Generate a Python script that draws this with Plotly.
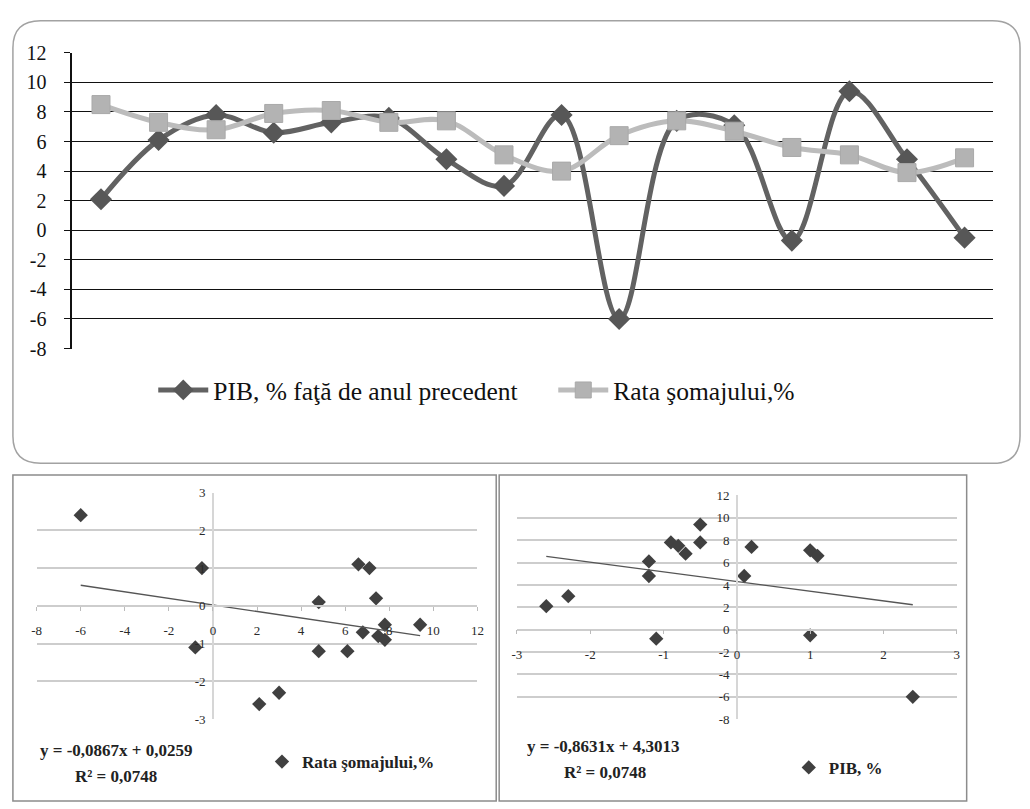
import plotly.graph_objects as go

W, H = 1030, 809

# --- time series: GDP growth and unemployment rate, 16 consecutive years ---
period = list(range(16))
pib = [2.1, 6.1, 7.8, 6.6, 7.3, 7.6, 4.8, 3.0, 7.8, -6.0, 7.4, 7.1, -0.7, 9.4, 4.8, -0.5]
rata_somaj = [8.5, 7.3, 6.8, 7.9, 8.1, 7.3, 7.4, 5.1, 4.0, 6.4, 7.4, 6.7, 5.6, 5.1, 3.9, 4.9]

# --- paired values used by the two regression scatters ---
scatter_pib = [2.1, 3.0, 6.1, 4.8, -0.8, 7.8, 7.5, 6.8, 9.4, 7.8, 4.8, 7.4, 7.1, 6.6, -0.5, -6.0]
scatter_z = [-2.6, -2.3, -1.2, -1.2, -1.1, -0.9, -0.8, -0.7, -0.5, -0.5, 0.1, 0.2, 1.0, 1.1, 1.0, 2.4]

# linear trend coefficients (slope, intercept, R²)
fit_left = (-0.0867, 0.0259, 0.0748)
fit_right = (-0.8631, 4.3013, 0.0748)

top_ticks = list(range(-8, 13, 2))
left_xticks = list(range(-8, 13, 2))
left_yticks = list(range(-3, 4))
right_xticks = list(range(-3, 4))
right_yticks = list(range(-8, 13, 2))


def px(x):
    return x / W


def py(y):
    return 1 - y / H


def rounded_rect(x0, y0, x1, y1, r):
    """SVG path (paper coords) for a rectangle with rounded corners, given in pixels."""
    pts = [
        ("M", x0 + r, y0), ("L", x1 - r, y0), ("Q", x1, y0, x1, y0 + r),
        ("L", x1, y1 - r), ("Q", x1, y1, x1 - r, y1), ("L", x0 + r, y1),
        ("Q", x0, y1, x0, y1 - r), ("L", x0, y0 + r), ("Q", x0, y0, x0 + r, y0),
    ]
    out = []
    for p in pts:
        cmd, coords = p[0], p[1:]
        xy = []
        for i in range(0, len(coords), 2):
            xy.append(f"{px(coords[i]):.5f},{py(coords[i + 1]):.5f}")
        out.append(cmd + " ".join(xy))
    return " ".join(out) + " Z"


def labels(vals):
    # plain hyphen for negatives, as in the printed source
    return [str(v) for v in vals]


fig = go.Figure()

serif = "Liberation Serif, Times New Roman, serif"
dark = "#626262"
light = "#bcbcbc"

# --- top chart ---
fig.add_trace(go.Scatter(
    x=period, y=pib, name="PIB, % faţă de anul precedent",
    mode="lines+markers", line=dict(color=dark, width=5, shape="spline", smoothing=1),
    marker=dict(symbol="diamond", size=17, color="#575757"),
    xaxis="x", yaxis="y", legend="legend",
))
fig.add_trace(go.Scatter(
    x=period, y=rata_somaj, name="Rata şomajului,%",
    mode="lines+markers", line=dict(color=light, width=5, shape="spline", smoothing=1),
    marker=dict(symbol="square", size=18, color="#b3b3b3", line=dict(color="#a9a9a9", width=1)),
    xaxis="x", yaxis="y", legend="legend",
))

# --- bottom left: unemployment vs GDP ---
fig.add_trace(go.Scatter(
    x=scatter_pib, y=scatter_z, name="Rata şomajului,%", mode="markers",
    marker=dict(symbol="diamond", size=11, color="#404040"),
    xaxis="x2", yaxis="y2", legend="legend2",
))
lx = [min(scatter_pib), max(scatter_pib)]
fig.add_trace(go.Scatter(
    x=lx, y=[fit_left[0] * v + fit_left[1] for v in lx], mode="lines",
    line=dict(color="#555555", width=1.3), showlegend=False, hoverinfo="skip",
    xaxis="x2", yaxis="y2", legend="legend2",
))

# --- bottom right: GDP vs unemployment ---
fig.add_trace(go.Scatter(
    x=scatter_z, y=scatter_pib, name="PIB, %", mode="markers",
    marker=dict(symbol="diamond", size=11, color="#404040"),
    xaxis="x3", yaxis="y3", legend="legend3",
))
rx = [min(scatter_z), max(scatter_z)]
fig.add_trace(go.Scatter(
    x=rx, y=[fit_right[0] * v + fit_right[1] for v in rx], mode="lines",
    line=dict(color="#555555", width=1.3), showlegend=False, hoverinfo="skip",
    xaxis="x3", yaxis="y3", legend="legend3",
))

# axis domains (pixels -> paper)
x1d = [px(68), px(1000)]
y1d = [py(347), py(43)]
x2d = [px(32), px(478)]
y2d = [py(728), py(495)]
x3d = [px(518), px(963)]
y3d = [py(728), py(498)]
x2r, y2r = [-8, 12], [-3, 3]
x3r, y3r = [-3, 3], [-8, 12]


def cross(dom, rng, v=0):
    return dom[0] + (v - rng[0]) / (rng[1] - rng[0]) * (dom[1] - dom[0])


small = dict(family=serif, size=13, color="#2a2a2a")
grid_light = "#cdcdcd"

fig.update_layout(
    width=W, height=H, margin=dict(l=0, r=0, t=0, b=0),
    paper_bgcolor="white", plot_bgcolor="white",
    showlegend=True,
    xaxis=dict(domain=x1d, range=[-0.5, 15.5], showgrid=False, zeroline=False,
               showticklabels=False, showline=False, fixedrange=True),
    yaxis=dict(domain=y1d, range=[-8, 12], tickvals=top_ticks, ticktext=labels(top_ticks),
               showgrid=True, gridcolor="#111111", gridwidth=1.3, zeroline=False,
               showline=True, linecolor="#111111", linewidth=1.5,
               ticks="outside", ticklen=6, tickcolor="#111111", tickwidth=1.3,
               ticklabelstandoff=14,
               tickfont=dict(family=serif, size=20, color="#111111")),
    xaxis2=dict(domain=x2d, range=x2r, tickvals=left_xticks, ticktext=labels(left_xticks),
                showgrid=False, zeroline=False,
                anchor="free", position=cross(y2d, y2r), showline=True,
                linecolor=grid_light, linewidth=1.5, ticks="outside", ticklen=4,
                tickcolor="#bbbbbb", ticklabelstandoff=9, tickfont=small),
    yaxis2=dict(domain=y2d, range=y2r, tickvals=left_yticks, ticktext=labels(left_yticks),
                showgrid=True, gridcolor=grid_light,
                gridwidth=1.5, zeroline=False, anchor="free",
                position=cross(x2d, x2r), showline=True, linecolor="#d6d6d6",
                linewidth=1.5, ticks="", ticklabelstandoff=4, tickfont=small),
    xaxis3=dict(domain=x3d, range=x3r, tickvals=right_xticks, ticktext=labels(right_xticks),
                showgrid=False, zeroline=False,
                anchor="free", position=cross(y3d, y3r), showline=True,
                linecolor=grid_light, linewidth=1.5, ticks="outside", ticklen=4,
                tickcolor="#bbbbbb", ticklabelstandoff=9, tickfont=small),
    yaxis3=dict(domain=y3d, range=y3r, tickvals=right_yticks, ticktext=labels(right_yticks),
                showgrid=True, gridcolor=grid_light,
                gridwidth=1.5, zeroline=False, anchor="free",
                position=cross(x3d, x3r), showline=True, linecolor="#d6d6d6",
                linewidth=1.5, ticks="", ticklabelstandoff=4, tickfont=small),
    legend=dict(orientation="h", x=px(150), y=py(390), xanchor="left", yanchor="middle",
                font=dict(family=serif, size=25.5, color="#111111"),
                bgcolor="rgba(0,0,0,0)", entrywidth=335, entrywidthmode="pixels",
                itemwidth=50),
    legend2=dict(orientation="h", x=px(260), y=py(772), xanchor="left", yanchor="middle",
                 font=dict(family=serif, size=17, color="#222222", weight="bold"),
                 bgcolor="rgba(0,0,0,0)", itemwidth=30),
    legend3=dict(orientation="h", x=px(793), y=py(778), xanchor="left", yanchor="middle",
                 font=dict(family=serif, size=17, color="#222222", weight="bold"),
                 bgcolor="rgba(0,0,0,0)", itemwidth=30),
)

eq_font = dict(family=serif, size=17, color="#222222", weight="bold")
eq_common = dict(xref="paper", yref="paper", showarrow=False,
                 xanchor="center", yanchor="middle", font=eq_font)
fig.add_annotation(x=px(113), y=py(760),
                   text=f"y = {fit_left[0]:.4f}x + {fit_left[1]:.4f}".replace(".", ","),
                   **eq_common)
fig.add_annotation(x=px(112), y=py(787),
                   text=f"R² = {fit_left[2]:.4f}".replace(".", ","), **eq_common)
fig.add_annotation(x=px(606), y=py(756),
                   text=f"y = {fit_right[0]:.4f}x + {fit_right[1]:.4f}".replace(".", ","),
                   **eq_common)
fig.add_annotation(x=px(607), y=py(783),
                   text=f"R² = {fit_right[2]:.4f}".replace(".", ","), **eq_common)

# frames: rounded box around the line chart, plain boxes around the scatters
fig.add_shape(type="path", xref="paper", yref="paper",
              path=rounded_rect(8, 10, 1027, 465, 28),
              line=dict(color="#a2a2a2", width=1.5), layer="below")
fig.add_shape(type="rect", xref="paper", yref="paper",
              x0=px(8), y0=py(812), x1=px(497), y1=py(477),
              line=dict(color="#8c8c8c", width=1.5), layer="below")
fig.add_shape(type="rect", xref="paper", yref="paper",
              x0=px(500), y0=py(812), x1=px(973), y1=py(477),
              line=dict(color="#8c8c8c", width=1.5), layer="below")

fig.write_html("out.html")
